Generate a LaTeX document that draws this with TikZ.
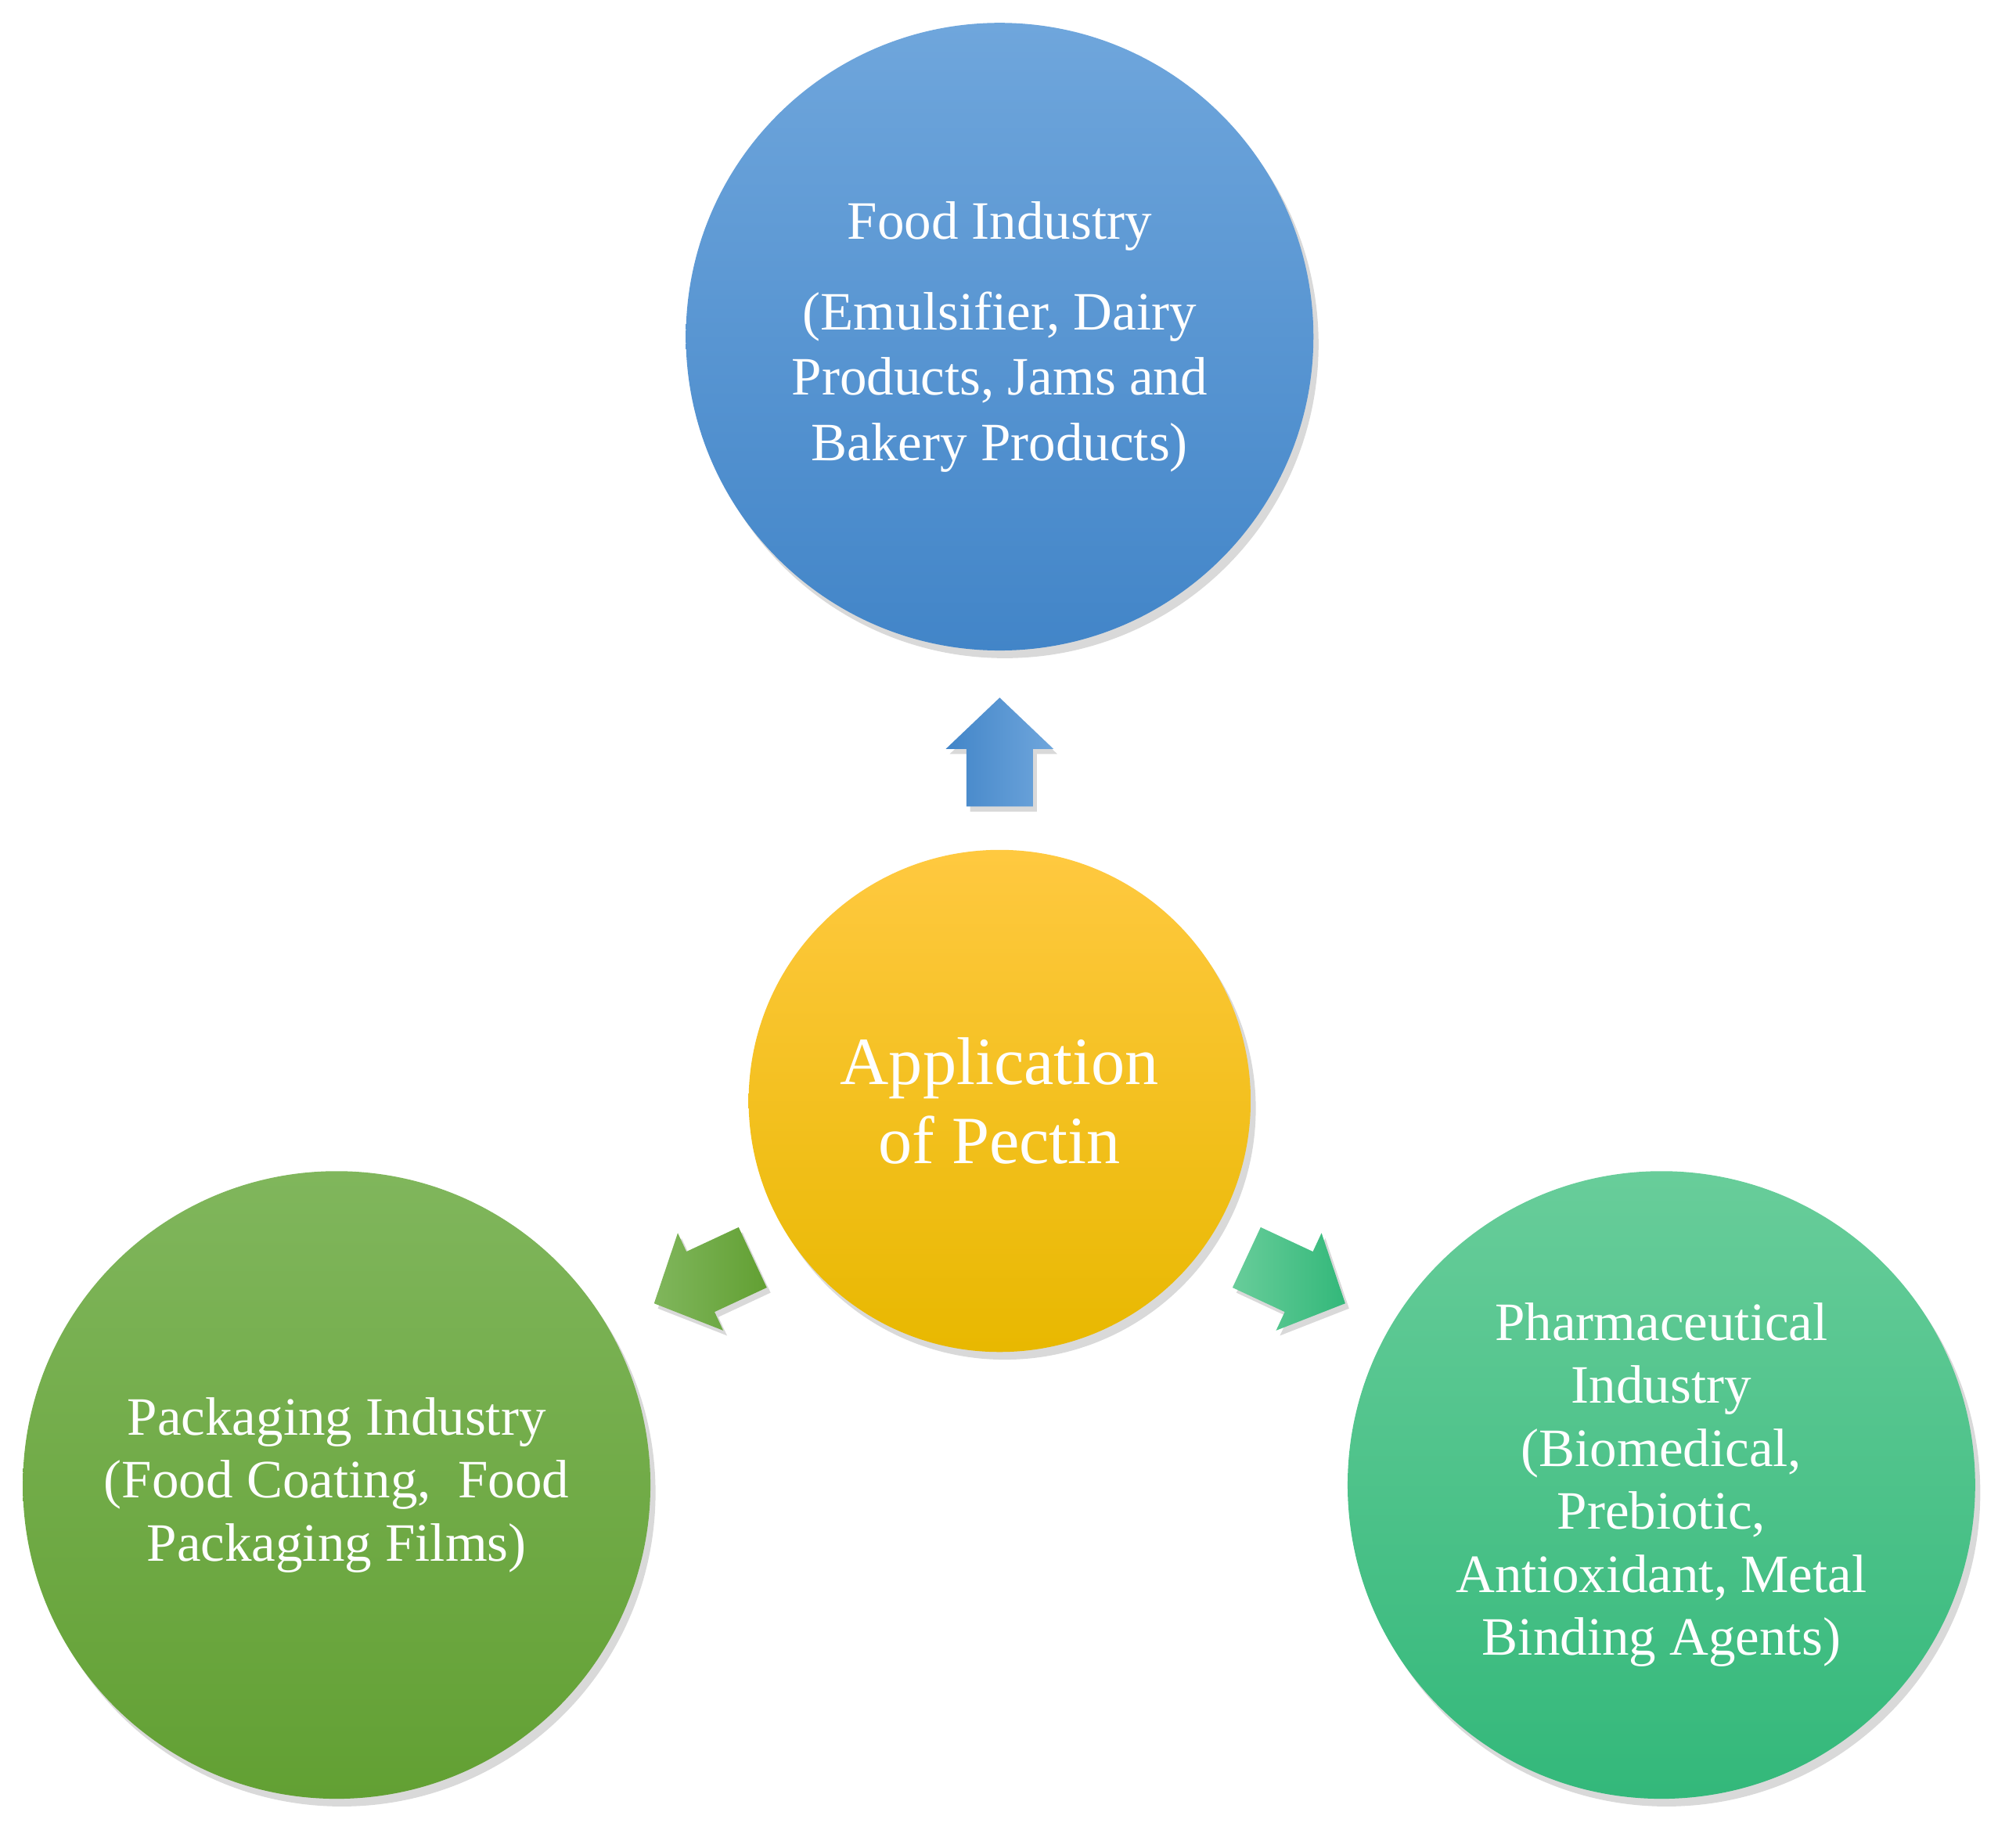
\documentclass[tikz,border=0pt]{standalone}
\usepackage{fontspec}
\setmainfont{Liberation Serif}
\usetikzlibrary{shadows}
\definecolor{ft}{HTML}{6FA6DC}\definecolor{fb}{HTML}{4285C8}
\definecolor{ct}{HTML}{FFC940}\definecolor{cb}{HTML}{E8B800}
\definecolor{pt}{HTML}{80B65C}\definecolor{pb}{HTML}{62A033}
\definecolor{mt}{HTML}{68CD9A}\definecolor{mb}{HTML}{33B87A}
\begin{document}
\begin{tikzpicture}[x=0.01cm,y=-0.01cm,
  circ/.style={circle,minimum size=#1,inner sep=0pt,text=white,align=center,
    drop shadow={shadow xshift=0.04cm,shadow yshift=-0.06cm,opacity=0.3}},
  blk/.style={drop shadow={shadow xshift=0.03cm,shadow yshift=-0.04cm,opacity=0.3}}]
\useasboundingbox (0,0) rectangle (1561,1443);
\node[circ=4.9cm,top color=ft,bottom color=fb,font=\fontsize{12}{14.5}\selectfont] (food) at (781,263)
 {Food Industry\\[0.2cm](Emulsifier, Dairy\\Products, Jams and\\Bakery Products)};
\node[circ=3.92cm,top color=ct,bottom color=cb,font=\fontsize{15}{17.5}\selectfont] (app) at (781,860)
 {Application\\of Pectin};
\node[circ=4.9cm,top color=pt,bottom color=pb,font=\fontsize{12}{14}\selectfont] (pack) at (263,1160)
 {Packaging Industry\\(Food Coating,~ Food\\Packaging Films)};
\node[circ=4.9cm,top color=mt,bottom color=mb,font=\fontsize{12}{14}\selectfont] (pharm) at (1298,1160)
 {Pharmaceutical\\Industry\\(Biomedical,\\Prebiotic,\\Antioxidant, Metal\\Binding Agents)};
\def\arrowpath{(-42,-26)--(3,-26)--(3,-42)--(43,0)--(3,42)--(3,26)--(-42,26)--cycle}
\begin{scope}[shift={(781,588)},rotate=90]
 \shade[blk,left color=fb,right color=ft] \arrowpath;
\end{scope}
\begin{scope}[shift={(550,1000)},rotate=205]
 \shade[blk,left color=pt,right color=pb] \arrowpath;
\end{scope}
\begin{scope}[shift={(1012,1000)},rotate=-25]
 \shade[blk,left color=mt,right color=mb] \arrowpath;
\end{scope}
\end{tikzpicture}
\end{document}
